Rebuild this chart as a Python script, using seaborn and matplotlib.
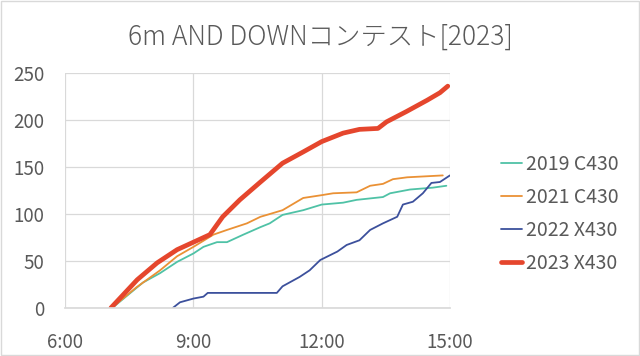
import pandas as pd
import matplotlib
matplotlib.use("Agg")
import matplotlib.pyplot as plt
import matplotlib.ticker as mticker
import seaborn as sns

# ── Data ──────────────────────────────────────────────────────────────────────
TITLE = "6m AND DOWNコンテスト[2023]"

t_2019 = ["7:06", "7:49", "8:13", "8:37", "9:00", "9:14", "9:33", "9:47", "10:10",
          "10:34", "10:47", "11:05", "11:34", "12:00", "12:30", "12:49", "13:26",
          "13:36", "14:04", "14:36", "14:55"]
v_2019 = [0, 27, 37, 49, 58, 65, 70, 70, 78, 86, 90, 99, 104, 110, 112, 115, 118,
          122, 126, 128, 130]

t_2021 = ["7:05", "7:40", "8:13", "8:37", "9:00", "9:28", "9:47", "10:15", "10:34",
          "10:43", "11:05", "11:34", "12:00", "12:16", "12:49", "13:08", "13:26",
          "13:40", "14:00", "14:50"]
v_2021 = [0, 22, 40, 55, 65, 78, 83, 90, 97, 99, 104, 117, 120, 122, 123, 130, 132,
          137, 139, 141]

t_2022 = ["8:31", "8:41", "9:00", "9:14", "9:20", "10:57", "11:05", "11:29", "11:43",
          "11:58", "12:22", "12:35", "12:53", "13:08", "13:26", "13:46", "13:54",
          "14:08", "14:22", "14:34", "14:46", "15:00"]
v_2022 = [0, 6, 10, 12, 16, 16, 23, 33, 40, 51, 60, 67, 72, 83, 90, 97, 110, 113,
          122, 133, 134, 141]

t_2023 = ["7:04", "7:41", "8:09", "8:37", "9:00", "9:23", "9:41", "10:05", "10:34",
          "11:05", "11:34", "12:00", "12:30", "12:53", "13:19", "13:31", "13:59",
          "14:28", "14:46", "14:57"]
v_2023 = [0, 30, 48, 62, 70, 78, 97, 115, 134, 154, 166, 177, 186, 190, 191, 198,
          209, 221, 229, 236]

SERIES = [
    ("2019 C430", t_2019, v_2019, "#4fc2a6", 1.3),
    ("2021 C430", t_2021, v_2021, "#ea9135", 1.3),
    ("2022 X430", t_2022, v_2022, "#3c509c", 1.3),
    ("2023 X430", t_2023, v_2023, "#e5462d", 3.4),
]


def to_hours(s):
    h, m = s.split(":")
    return int(h) + int(m) / 60


# ── Style ─────────────────────────────────────────────────────────────────────
sns.set_theme(style="white")
plt.rcParams["font.family"] = ["Noto Sans CJK JP", "DejaVu Sans"]
TEXT = "#595959"

fig = plt.figure(figsize=(6.4, 3.56), dpi=100)
ax = fig.add_axes([0.102, 0.135, 0.601, 0.66])

for name, t, v, color, lw in SERIES:
    df = pd.DataFrame({"time": [to_hours(x) for x in t], "count": v})
    sns.lineplot(data=df, x="time", y="count", ax=ax, color=color,
                 linewidth=lw, label=name)

ax.set_xlim(6, 15)
ax.set_ylim(0, 250)
ax.set_xticks([6, 9, 12, 15])
ax.set_yticks(range(0, 251, 50))
ax.xaxis.set_major_formatter(mticker.FuncFormatter(lambda x, _: f"{int(x)}:00"))
ax.grid(True, color="#d9d9d9", linewidth=0.9)
ax.set_xlabel(""); ax.set_ylabel("")
ax.tick_params(axis="both", colors=TEXT, labelsize=13.5, length=0)
ax.tick_params(axis="y", pad=15)
ax.tick_params(axis="x", pad=17)
for s in ax.spines.values():
    s.set_visible(False)
ax.spines["bottom"].set_visible(True)
ax.spines["bottom"].set_color("#d9d9d9")

handles, labels = ax.get_legend_handles_labels()
ax.legend_.remove()
fig.legend(handles, labels, loc="center left", bbox_to_anchor=(0.755, 0.40),
           frameon=False, fontsize=14, handlelength=1.1, handletextpad=0.2,
           labelspacing=0.62, labelcolor=TEXT)

fig.suptitle(TITLE, x=0.5, y=0.935, fontsize=19, color=TEXT, fontweight="light")

# outer chart border
fig.patches.append(plt.Rectangle((0.002, 0.003), 0.996, 0.994, transform=fig.transFigure,
                                 fill=False, edgecolor="#d9d9d9", linewidth=1))

fig.savefig("out.png", dpi=100)
